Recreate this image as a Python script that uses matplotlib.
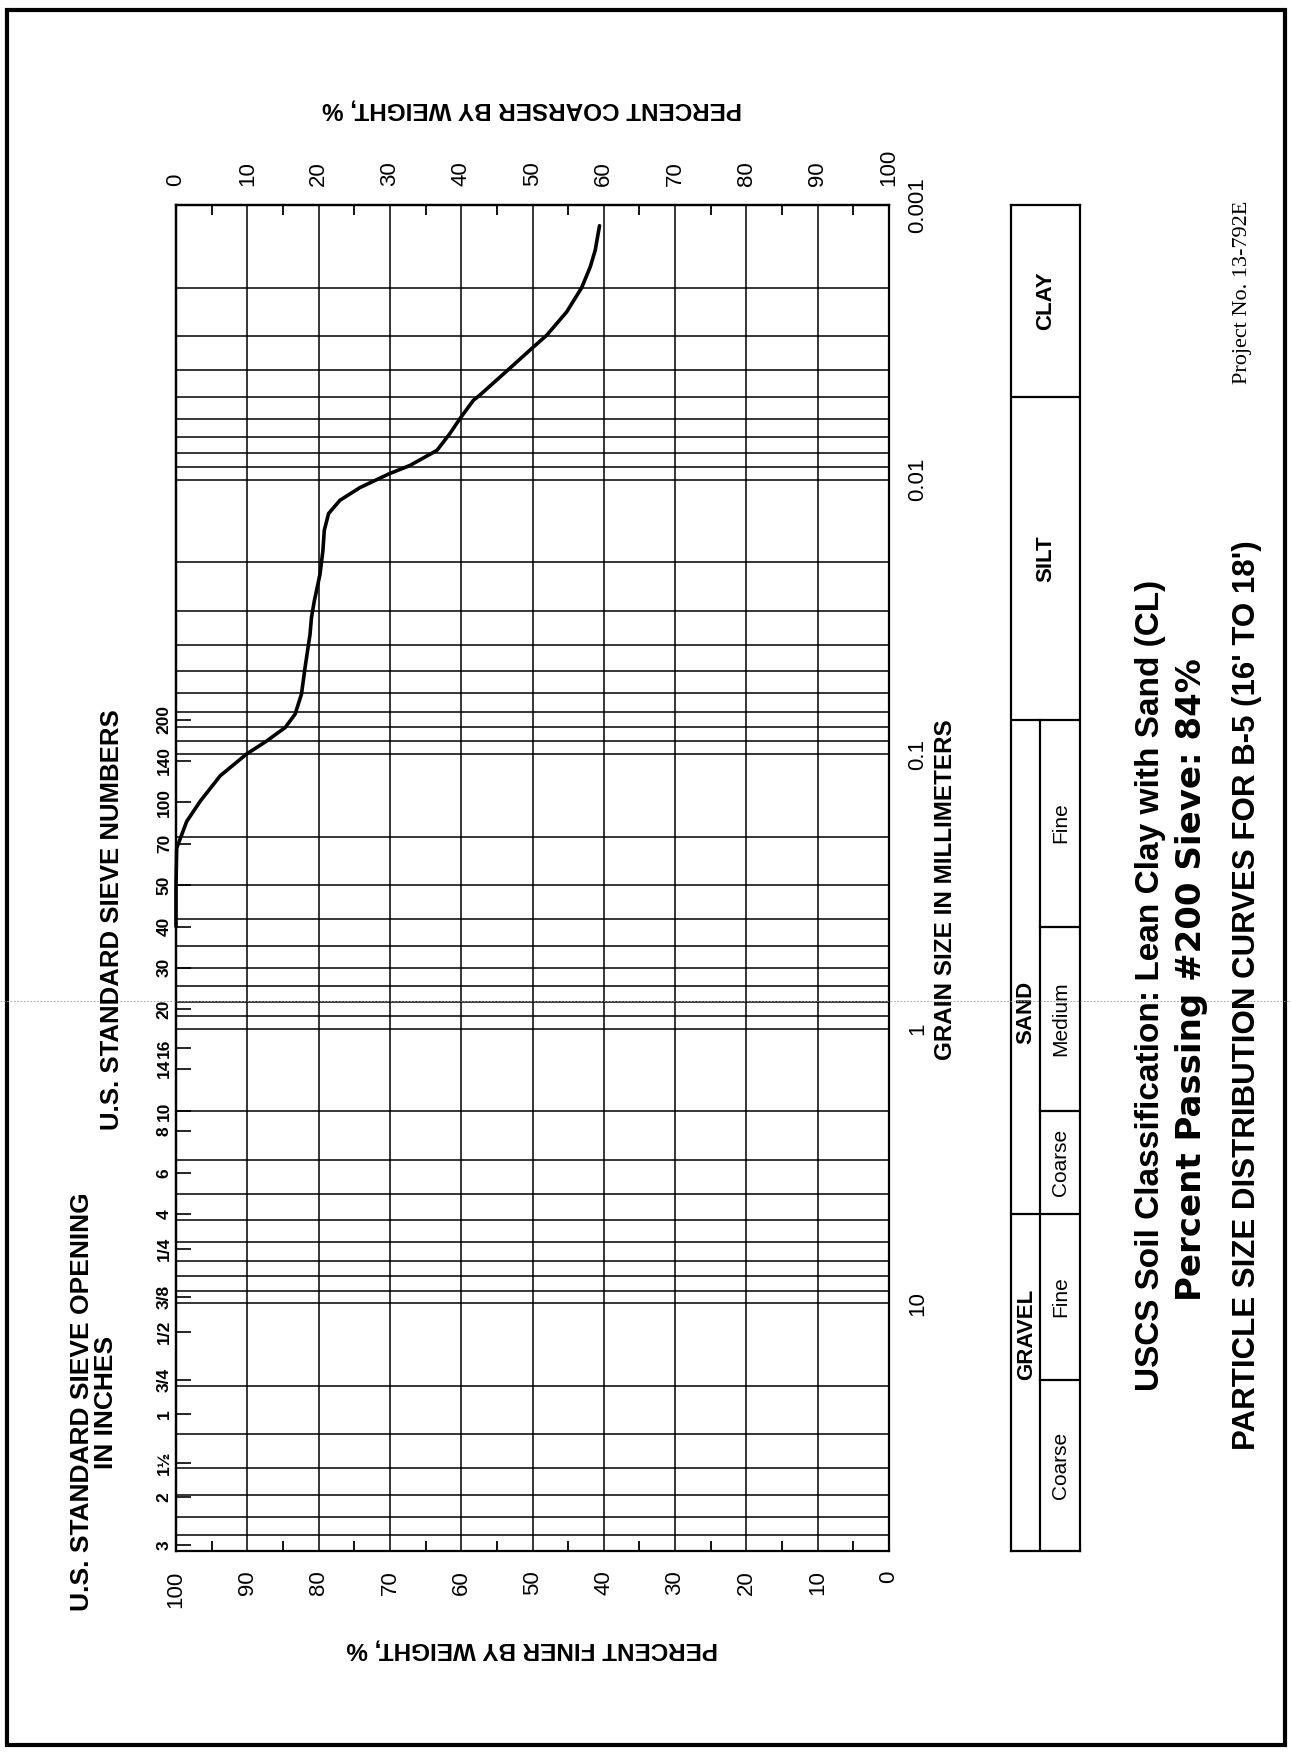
import numpy as np
import matplotlib.pyplot as plt
from matplotlib.ticker import LogLocator, NullFormatter, NullLocator
from matplotlib.patches import Rectangle
from matplotlib.lines import Line2D

plt.rcParams['font.family'] = ['Liberation Sans', 'DejaVu Sans']

# curve: grain size (mm) vs percent finer
grain_mm = [0.425, 0.30, 0.22, 0.176, 0.1485, 0.120, 0.100, 0.0897, 0.0801, 0.0716,
            0.0605, 0.0484, 0.0366, 0.0318, 0.0277, 0.0221, 0.0182, 0.0153, 0.0133,
            0.0119, 0.0107, 0.00953, 0.00889, 0.00783, 0.00681, 0.00596, 0.00515,
            0.00493, 0.00398, 0.00333, 0.00298, 0.00245, 0.0020, 0.00168, 0.00146, 0.00119]
pct_finer = [100, 100, 99.9, 98.5, 96.6, 93.8, 90.1, 87.3, 84.7, 83.3,
             82.4, 81.9, 81.2, 81.0, 80.6, 79.8, 79.4, 79.2, 78.6,
             77.0, 74.2, 70.1, 67.2, 63.4, 61.6, 60.1, 58.3,
             57.4, 53.4, 50.1, 48.0, 45.2, 43.1, 41.9, 41.2, 40.6]

# sieve openings (mm) and their names
sieve_mm = [76.2, 50.8, 38.1, 25.4, 19.05, 12.7, 9.525, 6.35, 4.75, 3.35, 2.36, 2.0,
            1.4, 1.18, 0.85, 0.6, 0.425, 0.3, 0.212, 0.15, 0.106, 0.075]
sieve_names = ['3', '2', '1½', '1', '3/4', '1/2', '3/8', '1/4', '4', '6', '8', '10',
               '14', '16', '20', '30', '40', '50', '70', '100', '140', '200']

pct_ticks = list(range(0, 101, 10))
pct_minor = list(range(5, 100, 10))
size_ticks = [0.001, 0.01, 0.1, 1, 10]
size_labels = ['0.001', '0.01', '0.1', '1', '10']

# soil classification bands (mm)
band_full = [4.75, 0.075, 0.005]
band_sub = [19.0, 2.0, 0.425]
header_names = ['GRAVEL', 'SAND']
header_mm = [13.0, 0.87]
span_names = ['SILT', 'CLAY']
span_mm = [0.0194, 0.00224]
sub_names = ['Coarse', 'Fine', 'Coarse', 'Medium', 'Fine']
sub_mm = [39.0, 9.5, 3.08, 0.92, 0.178]

W, H = 1291, 1752


def box(l, t, r, b):
    return [l / W, 1 - b / H, (r - l) / W, (b - t) / H]


fig = plt.figure(figsize=(W / 100, H / 100), dpi=100)

ax = fig.add_axes(box(176, 205, 889, 1551))
ax.plot(pct_finer, grain_mm, color='k', lw=2.6, zorder=5, clip_on=False,
        solid_capstyle='round', solid_joinstyle='round')
ax.set_yscale('log')
ax.set_xlim(100, 0)
ax.set_ylim(80, 0.001)
for s in ax.spines.values():
    s.set_linewidth(1.6)

# percent finer (bottom)
ax.set_xticks(pct_ticks, labels=[str(v) for v in pct_ticks], rotation=90, fontsize=16)
ax.set_xticks(pct_minor, minor=True)
ax.tick_params(axis='x', which='major', length=0, pad=14)
ax.tick_params(axis='x', which='minor', direction='in', length=7, width=1.3,
               top=True, bottom=True)

# grain size (right)
ax.yaxis.tick_right()
ax.set_yticks(size_ticks, labels=size_labels, rotation=90, va='center', fontsize=16)
ax.yaxis.set_minor_locator(LogLocator(base=10, subs=np.arange(2, 10), numticks=50))
ax.yaxis.set_minor_formatter(NullFormatter())
ax.tick_params(axis='y', which='both', length=0, pad=13)

ax.yaxis.grid(True, which='both', color='k', lw=1.1)
ax.xaxis.grid(True, which='major', color='k', lw=1.1)

# percent coarser (top)
secx = ax.secondary_xaxis('top', functions=(lambda p: 100 - p, lambda c: 100 - c))
secx.set_ticks(pct_ticks, labels=[str(v) for v in pct_ticks], rotation=90, fontsize=16)
secx.tick_params(length=0, pad=14)
secx.spines['top'].set_linewidth(1.6)

# sieve numbers (left)
secy = ax.secondary_yaxis('left')
secy.set_ticks(sieve_mm, labels=sieve_names, rotation=90, va='center',
               fontsize=12.5, fontweight='bold')
secy.yaxis.set_minor_locator(NullLocator())
secy.tick_params(which='major', direction='in', length=11, width=1.2, pad=3)
secy.tick_params(which='minor', length=0)
secy.spines['left'].set_linewidth(1.6)

# classification table
tab = fig.add_axes(box(1011, 205, 1080, 1551))
tab.set_yscale('log')
tab.set_ylim(80, 0.001)
tab.set_xlim(0, 1)
tab.set_xticks([])
tab.set_yticks([])
tab.yaxis.set_minor_locator(NullLocator())
for s in tab.spines.values():
    s.set_linewidth(1.6)
split = 0.42
for b in band_full:
    tab.axhline(b, color='k', lw=1.6)
for b in band_sub:
    tab.axhline(b, xmin=split, color='k', lw=1.6)
tab.plot([split, split], [80, band_full[1]], color='k', lw=1.6)
for name, y in zip(header_names, header_mm):
    tab.text(0.22, y, name, rotation=90, ha='center', va='center',
             fontsize=16, fontweight='bold')
for name, y in zip(span_names, span_mm):
    tab.text(0.5, y, name, rotation=90, ha='center', va='center',
             fontsize=16, fontweight='bold')
for name, y in zip(sub_names, sub_mm):
    tab.text(0.72, y, name, rotation=90, ha='center', va='center', fontsize=15)

# titles and labels
bold = dict(fontweight='bold', ha='center', va='center')
fig.text(532 / W, 1 - 109 / H, 'PERCENT COARSER BY WEIGHT, %', rotation=180,
         fontsize=17.5, **bold)
fig.text(532 / W, 1 - 1649 / H, 'PERCENT FINER BY WEIGHT, %', rotation=180,
         fontsize=17.5, **bold)
fig.text(945 / W, 1 - 890 / H, 'GRAIN SIZE IN MILLIMETERS', rotation=90,
         fontsize=17.5, **bold)
fig.text(112 / W, 1 - 920 / H, 'U.S. STANDARD SIEVE NUMBERS', rotation=90,
         fontsize=18.5, **bold)
fig.text(94 / W, 1 - 1402 / H, 'U.S. STANDARD SIEVE OPENING\nIN INCHES', rotation=90,
         fontsize=19, multialignment='center', linespacing=1.0, **bold)
fig.text(1150 / W, 1 - 985 / H, 'USCS Soil Classification: Lean Clay with Sand (CL)',
         rotation=90, fontsize=24, **bold)
fig.text(1192 / W, 1 - 980 / H, 'Percent Passing #200 Sieve: 84%',
         rotation=90, fontsize=24.5, family=['DejaVu Sans'], **bold)
fig.text(1247 / W, 1 - 995 / H, "PARTICLE SIZE DISTRIBUTION CURVES FOR B-5 (16' TO 18')",
         rotation=90, fontsize=22.5, **bold)
fig.text(1243 / W, 1 - 201 / H, 'Project No. 13-792E', rotation=90, ha='center',
         va='top', fontsize=16, family=['Liberation Serif', 'DejaVu Serif'])

# page frame and faint scan line
fig.add_artist(Rectangle((7 / W, 1 - 1745 / H), 1278 / W, 1735 / H, fill=False,
                         lw=3, color='k', transform=fig.transFigure))
fig.add_artist(Line2D([0, 1], [1 - 1001 / H, 1 - 1001 / H], lw=0.6, color='#999999',
                      ls=(0, (2, 2)), transform=fig.transFigure))

fig.savefig('out.png', dpi=100)
